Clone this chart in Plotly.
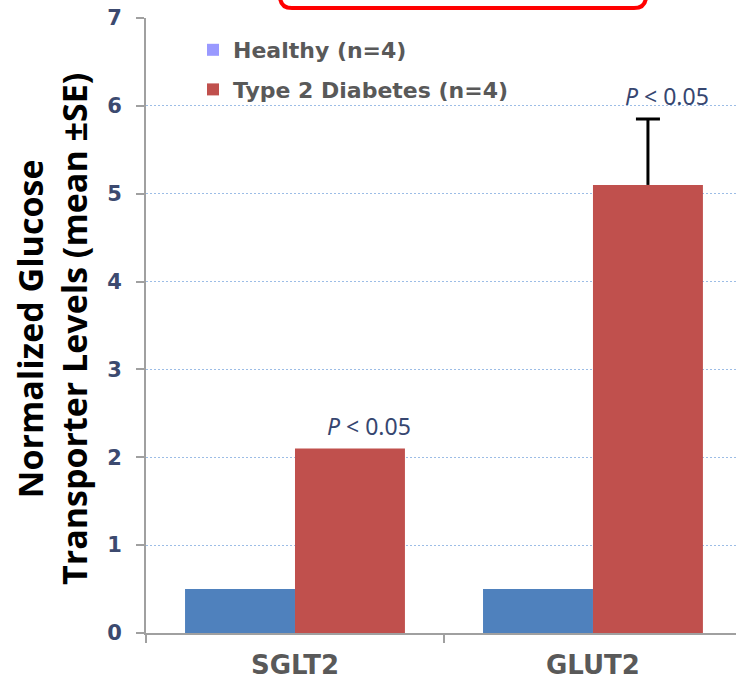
import plotly.graph_objects as go

categories = ["SGLT2", "GLUT2"]
healthy = [0.5, 0.5]
diabetes = [2.1, 5.1]
diabetes_se = [None, 0.75]
p_labels = ["<i>P</i> < 0.05", "<i>P</i> < 0.05"]
series_names = ["Healthy (n=4)", "Type 2 Diabetes (n=4)"]

W, H = 736, 682
L, R, T, B = 146, 0, 18, 49
pw, ph = W - L - R, H - T - B

def px_x(px):
    return (px - L) / pw

def px_y(py):
    return (H - B - py) / ph

fig = go.Figure()
fig.add_trace(go.Bar(x=categories, y=healthy, marker=dict(color="#4F81BD", line=dict(width=0)),
                     showlegend=False, name=series_names[0], offsetgroup="h", hoverinfo="skip"))
# diabetes bars: one trace per category so only bars with an SE get an error bar
for cat, v, e in zip(categories, diabetes, diabetes_se):
    kw = {}
    if e is not None:
        # stem only (no caps) from mean up to mean + SE
        kw["error_y"] = dict(type="data", array=[e], arrayminus=[0], symmetric=False,
                             visible=True, color="black", thickness=3, width=0)
    fig.add_trace(go.Bar(x=[cat], y=[v], marker=dict(color="#C0504D", line=dict(width=0)),
                         showlegend=False, name=series_names[1], offsetgroup="d", **kw))
    if e is not None:
        # top cap only: transparent bar at mean + SE with zero-length error bar caps
        fig.add_trace(go.Bar(x=[cat], y=[v + e], marker=dict(color="rgba(0,0,0,0)", line=dict(width=0)),
                             showlegend=False, offsetgroup="d", hoverinfo="skip",
                             error_y=dict(type="data", array=[0], arrayminus=[0], symmetric=False,
                                          visible=True, color="black", thickness=3, width=12)))
# legend entries
fig.add_trace(go.Scatter(x=[None], y=[None], mode="markers", name=series_names[0], legendgroup="a",
                         marker=dict(symbol="square", size=12, color="#9999FF")))
fig.add_trace(go.Scatter(x=[None], y=[None], mode="markers", name=series_names[1], legendgroup="b",
                         marker=dict(symbol="square", size=12, color="#C0504D")))

annotations = []
for i, (v, e, lab) in enumerate(zip(diabetes, diabetes_se, p_labels)):
    top = v + (e or 0)
    annotations.append(dict(x=i + 0.25, y=top + 0.26, xref="x", yref="y", text=lab,
                            showarrow=False, xanchor="center", yanchor="middle",
                            font=dict(family="Noto Sans", size=23, color="#364670")))

annotations.append(dict(x=px_x(52), y=px_y(329), xref="paper", yref="paper",
                        text="Normalized Glucose<br>Transporter Levels (mean ±SE)",
                        textangle=-90, showarrow=False, xanchor="center", yanchor="middle",
                        font=dict(family="Open Sans", size=34, color="black", weight="bold")))

# red rounded box (cropped title frame)
x0, x1, yb = px_x(280), px_x(646), px_y(8)
ytop = px_y(-40)
rx, ry = 12 / pw, 12 / ph
path = (f"M {x0},{ytop} L {x0},{yb + ry} Q {x0},{yb} {x0 + rx},{yb} "
        f"L {x1 - rx},{yb} Q {x1},{yb} {x1},{yb + ry} L {x1},{ytop}")

fig.update_layout(
    width=W, height=H,
    margin=dict(l=L, r=R, t=T, b=B, pad=0),
    paper_bgcolor="white", plot_bgcolor="white",
    barmode="group", bargap=0.262, bargroupgap=0,
    font=dict(family="DejaVu Sans", color="#595959"),
    showlegend=True,
    legend=dict(x=px_x(193), y=px_y(29), xanchor="left", yanchor="top",
                bgcolor="rgba(0,0,0,0)", tracegroupgap=8,
                font=dict(family="DejaVu Sans", size=22, color="#595959", weight="bold")),
    annotations=annotations,
    shapes=[dict(type="path", path=path, xref="paper", yref="paper",
                 line=dict(color="#FF0000", width=4), layer="above")],
    xaxis=dict(range=[-0.5, 1.48], type="category", showgrid=False,
               showline=True, linecolor="#A0A0A0", linewidth=2,
               ticks="outside", tickson="boundaries", ticklen=8, tickcolor="#A0A0A0", tickwidth=2,
               ticklabelstandoff=8,
               tickfont=dict(family="DejaVu Sans", size=26, color="#595959", weight="bold")),
    yaxis=dict(range=[0, 7], dtick=1, showgrid=True, gridcolor="#9CBDE6", griddash="2px,2px", gridwidth=1,
               showline=True, linecolor="#A0A0A0", linewidth=2, zeroline=False,
               ticks="outside", ticklen=8, tickcolor="#A0A0A0", tickwidth=2,
               ticklabelstandoff=10,
               tickfont=dict(family="DejaVu Sans", size=21, color="#3C4A6F", weight="bold")),
)

fig.write_html("out.html")
